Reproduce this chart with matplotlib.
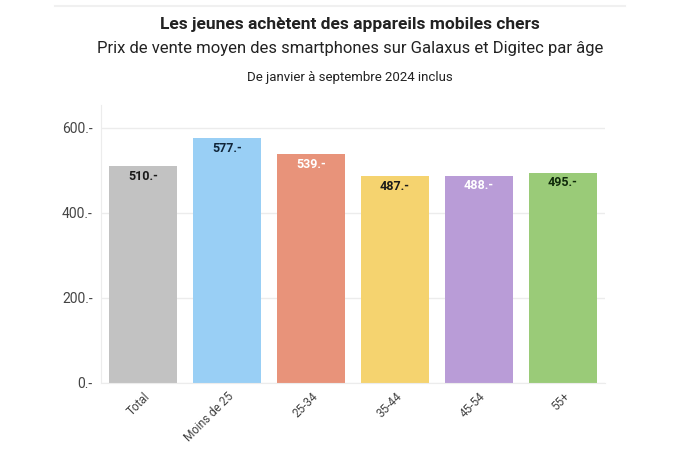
import matplotlib

matplotlib.use("Agg")

import matplotlib.pyplot as plt
import numpy as np

categories = ["Total", "Moins de 25", "25-34", "35-44", "45-54", "55+"]
prices = [510, 577, 539, 487, 488, 495]
bar_colors = ["#c2c2c2", "#99cff5", "#e8937a", "#f5d36f", "#b99cd7", "#9acb78"]
label_colors = ["#1a1a1a", "#10263a", "#ffffff", "#1a1a1a", "#ffffff", "#0f2a0a"]
yticks = [0, 200, 400, 600]

plt.rcParams["font.family"] = ["Roboto", "DejaVu Sans"]

fig = plt.figure(figsize=(7, 4.5), dpi=100)
ax = fig.add_axes([101 / 700, 1 - 383 / 450, (605 - 101) / 700, (383 - 105) / 450])

x = np.arange(len(categories))
ax.bar(x, prices, width=0.8, color=bar_colors, zorder=2)
for xi, v, c in zip(x, prices, label_colors):
    ax.text(xi, v - 9, f"{v}.-", ha="center", va="top", fontsize=9,
            fontweight="bold", color=c, zorder=3)

ax.set_xlim(-0.5, len(categories) - 0.5)
ax.set_ylim(0, 654)
ax.set_yticks(yticks)
ax.set_yticklabels([f"{t}.-" for t in yticks], fontsize=10, color="#444444")
ax.set_xticks(x)
ax.set_xticklabels(categories, rotation=45, ha="right", rotation_mode="anchor",
                   fontsize=8.5, color="#444444")
ax.tick_params(axis="y", length=0, pad=6)
ax.tick_params(axis="x", length=0, pad=5)
ax.grid(True, axis="y", color="#ececec", linewidth=1, zorder=0)
for side in ["top", "right"]:
    ax.spines[side].set_visible(False)
ax.spines["left"].set_color("#ececec")
ax.spines["bottom"].set_color("#ececec")

fig.text(0.5, 1 - 25 / 450, "Les jeunes achètent des appareils mobiles chers",
         ha="center", va="center", fontsize=12.5, fontweight="bold", color="#222222")
fig.text(0.5, 1 - 49 / 450, "Prix de vente moyen des smartphones sur Galaxus et Digitec par âge",
         ha="center", va="center", fontsize=12, color="#222222")
fig.text(0.5, 1 - 77 / 450, "De janvier à septembre 2024 inclus",
         ha="center", va="center", fontsize=9.5, color="#222222")
fig.add_artist(plt.Line2D([55 / 700, 625 / 700], [1 - 6 / 450, 1 - 6 / 450],
                          color="#f0f0f0", linewidth=1.5))

fig.savefig("out.png", dpi=100)
